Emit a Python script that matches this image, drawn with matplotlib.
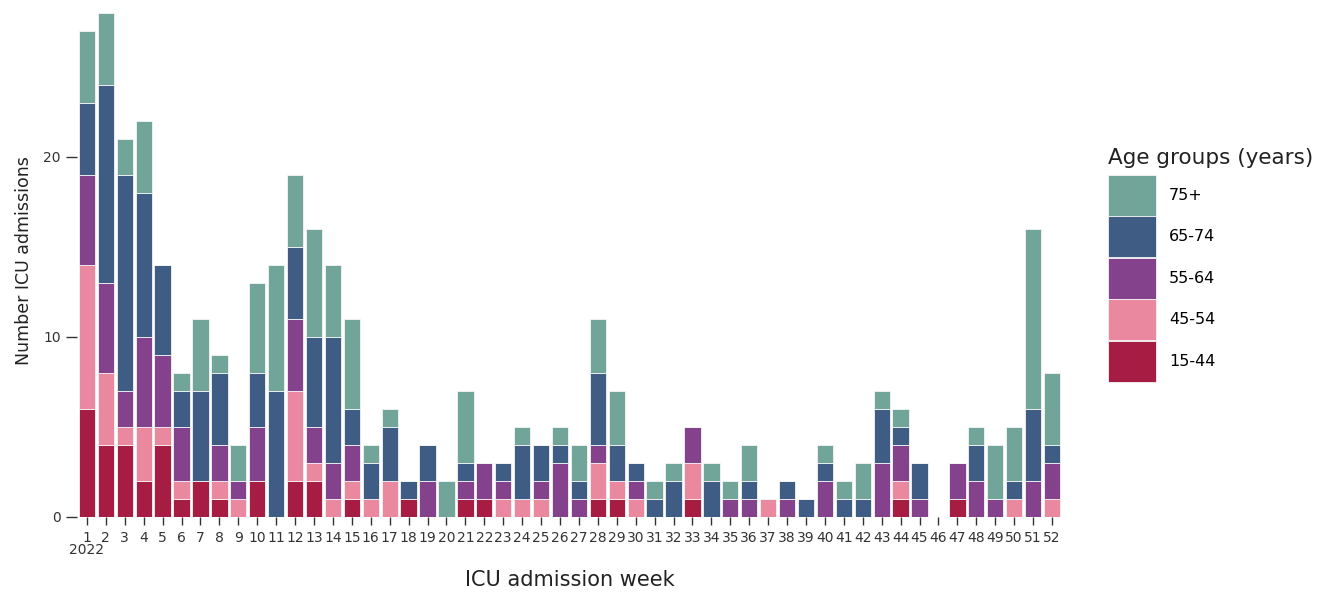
import numpy as np
import matplotlib.pyplot as plt
from matplotlib.patches import Patch

plt.rcParams['font.family'] = ['DejaVu Sans']

weeks = np.arange(1, 53)

# counts per week, per age group
age_15_44 = [6, 4, 4, 2, 4, 1, 2, 1, 0, 2, 0, 2, 2, 0, 1, 0, 0, 1, 0, 0,
             1, 1, 0, 0, 0, 0, 0, 1, 1, 0, 0, 0, 1, 0, 0, 0, 0, 0, 0, 0,
             0, 0, 0, 1, 0, 0, 1, 0, 0, 0, 0, 0]
age_45_54 = [8, 4, 1, 3, 1, 1, 0, 1, 1, 0, 0, 5, 1, 1, 1, 1, 2, 0, 0, 0,
             0, 0, 1, 1, 1, 0, 0, 2, 1, 1, 0, 0, 2, 0, 0, 0, 1, 0, 0, 0,
             0, 0, 0, 1, 0, 0, 0, 0, 0, 1, 0, 1]
age_55_64 = [5, 5, 2, 5, 4, 3, 0, 2, 1, 3, 0, 4, 2, 2, 2, 0, 0, 0, 2, 0,
             1, 2, 1, 0, 1, 3, 1, 1, 0, 1, 0, 0, 2, 0, 1, 1, 0, 1, 0, 2,
             0, 0, 3, 2, 1, 0, 2, 2, 1, 0, 2, 2]
age_65_74 = [4, 11, 12, 8, 5, 2, 5, 4, 0, 3, 7, 4, 5, 7, 2, 2, 3, 1, 2, 0,
             1, 0, 1, 3, 2, 1, 1, 4, 2, 1, 1, 2, 0, 2, 0, 1, 0, 1, 1, 1,
             1, 1, 3, 1, 2, 0, 0, 2, 0, 1, 4, 1]
age_75p = [4, 4, 2, 4, 0, 1, 4, 1, 2, 5, 7, 4, 6, 4, 5, 1, 1, 0, 0, 2,
           4, 0, 0, 1, 0, 1, 2, 3, 3, 0, 1, 1, 0, 1, 1, 2, 0, 0, 0, 1,
           1, 2, 1, 1, 0, 0, 0, 1, 3, 3, 10, 4]

groups = ['15-44', '45-54', '55-64', '65-74', '75+']
colors = ['#A61C42', '#EA889F', '#84418C', '#3E5C84', '#72A59A']
series = [age_15_44, age_45_54, age_55_64, age_65_74, age_75p]

fig = plt.figure(figsize=(13.33, 5.95), dpi=100)
ax = fig.add_axes([0.0581, 0.1311, 0.7382, 0.8622])

bottom = np.zeros(len(weeks))
for vals, col, name in zip(series, colors, groups):
    vals = np.array(vals)
    ax.bar(weeks, vals, bottom=bottom, width=0.86, color=col,
           edgecolor='#f4f4f4', linewidth=0.6, label=name)
    bottom += vals

ax.set_xlim(0.5, 52.5)
ax.set_ylim(0, 28.5)
for s in ax.spines.values():
    s.set_visible(False)

ax.set_yticks([0, 10, 20])
ax.set_xticks(weeks)
ax.set_xticklabels([str(w) for w in weeks])
ax.tick_params(axis='x', length=6, width=1, pad=4, labelsize=10,
               colors='#333333')
ax.tick_params(axis='y', length=8, width=1, pad=4, labelsize=10,
               colors='#333333')
# year under the first week
ax.annotate('2022', xy=(1, 0), xycoords=('data', 'axes fraction'),
            xytext=(0, -19), textcoords='offset points', ha='center',
            va='top', fontsize=10, color='#333333')

ax.set_xlabel('ICU admission week', fontsize=15, color='#222222',
              labelpad=18)
ax.set_ylabel('Number ICU admissions', fontsize=12.5, color='#222222',
              labelpad=7)

handles = [Patch(facecolor=c, edgecolor='#f4f4f4', linewidth=0.6)
           for c in colors[::-1]]
leg = fig.legend(handles, groups[::-1], loc='upper left',
                 bbox_to_anchor=(0.8255, 0.765), frameon=False,
                 title='Age groups (years)', title_fontsize=15.5,
                 fontsize=11.5, handlelength=3.0, handleheight=3.55,
                 labelspacing=0.05, handletextpad=0.8, borderpad=0)
leg._legend_box.align = 'left'
leg._legend_box.sep = 5
leg.get_title().set_color('#222222')

fig.savefig('out.png', dpi=100)
